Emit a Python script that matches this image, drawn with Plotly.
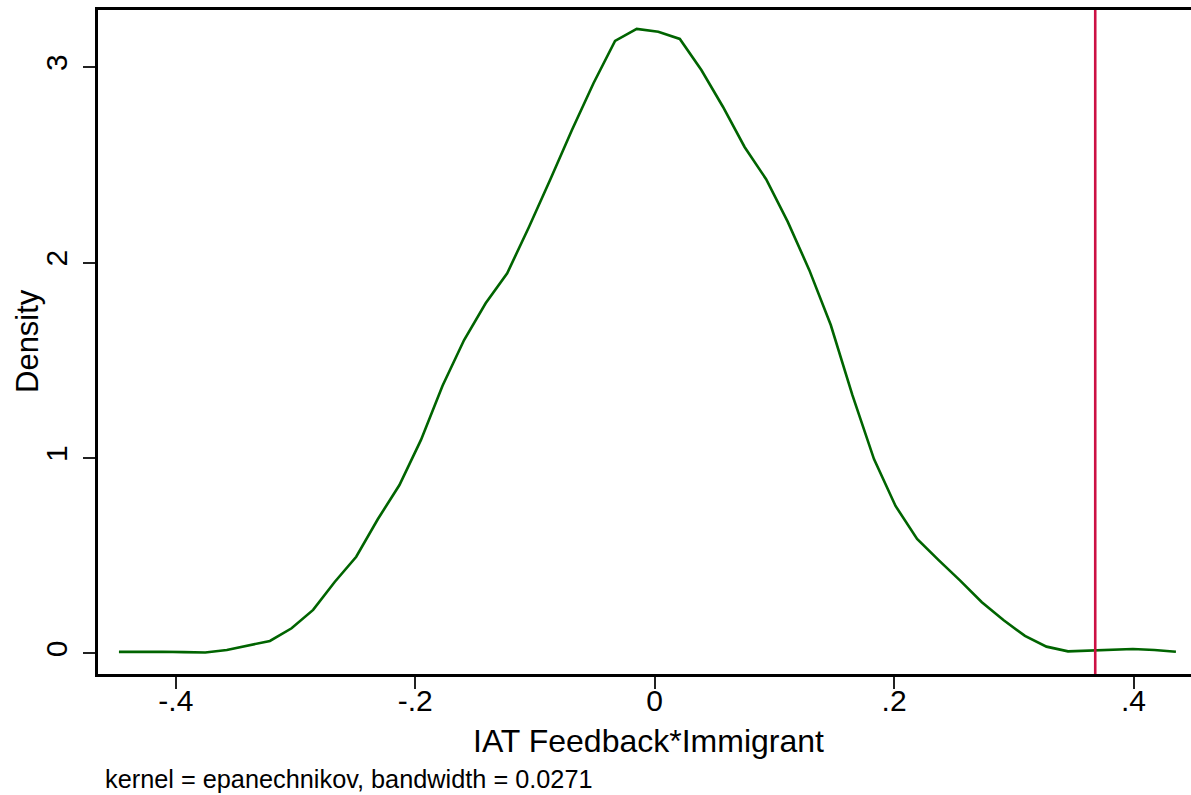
import plotly.graph_objects as go

# Kernel density evaluation points and estimated density
x_points = [-0.4475, -0.4295, -0.4114, -0.3934, -0.3754, -0.3574, -0.3394, -0.3214,
            -0.3033, -0.2853, -0.2673, -0.2493, -0.2313, -0.2132, -0.1952, -0.1772,
            -0.1592, -0.1412, -0.1232, -0.1051, -0.0871, -0.0691, -0.0511, -0.0331,
            -0.0150, 0.0030, 0.0210, 0.0390, 0.0570, 0.0751, 0.0931, 0.1111,
            0.1291, 0.1471, 0.1651, 0.1832, 0.2012, 0.2192, 0.2372, 0.2552,
            0.2733, 0.2913, 0.3093, 0.3273, 0.3453, 0.3634, 0.3814, 0.3994,
            0.4174, 0.4354]
density = [0.008, 0.010, 0.009, 0.007, 0.005, 0.018, 0.040, 0.064,
           0.129, 0.223, 0.366, 0.495, 0.687, 0.862, 1.093, 1.370,
           1.604, 1.792, 1.946, 2.181, 2.427, 2.679, 2.918, 3.135,
           3.196, 3.182, 3.145, 2.986, 2.798, 2.592, 2.427, 2.210,
           1.963, 1.681, 1.323, 0.995, 0.755, 0.586, 0.478, 0.373,
           0.262, 0.171, 0.090, 0.035, 0.011, 0.016, 0.021, 0.023,
           0.018, 0.009]
xline_value = 0.368

x_tickvals = [-0.4, -0.2, 0, 0.2, 0.4]
x_ticktext = ["-.4", "-.2", "0", ".2", ".4"]
y_tickvals = [0, 1, 2, 3]
y_ticktext = ["0", "1", "2", "3"]

x_title = "IAT Feedback*Immigrant"
y_title = "Density"
note_text = "kernel = epanechnikov, bandwidth = 0.0271"

W, H = 1191, 795
ML, MR, MT, MB = 98, 0, 10, 121
plot_h = H - MT - MB

FONT = "Liberation Sans, Arial, sans-serif"

fig = go.Figure()
fig.add_trace(go.Scatter(
    x=x_points, y=density, mode="lines",
    line=dict(color="#006400", width=2.6),
    showlegend=False, hoverinfo="skip"))

fig.add_shape(type="line", x0=xline_value, x1=xline_value, xref="x",
              y0=0, y1=1, yref="paper",
              line=dict(color="#cc1144", width=2.6))

def paper_y(py):
    return (H - MB - py) / plot_h

fig.add_annotation(text=x_title, xref="paper", yref="paper",
                   x=(648 - ML) / (W - ML - MR), y=paper_y(741),
                   xanchor="center", yanchor="middle", showarrow=False,
                   font=dict(family=FONT, size=32, color="black"))
fig.add_annotation(text=y_title, xref="paper", yref="paper",
                   x=(27 - ML) / (W - ML - MR), y=paper_y(341),
                   xanchor="center", yanchor="middle", showarrow=False,
                   textangle=-90,
                   font=dict(family=FONT, size=31, color="black"))
fig.add_annotation(text=note_text, xref="paper", yref="paper",
                   x=(103 - ML) / (W - ML - MR), y=paper_y(779),
                   xanchor="left", yanchor="middle", showarrow=False,
                   font=dict(family=FONT, size=25.3, color="black"))

fig.update_layout(
    width=W, height=H,
    margin=dict(l=ML, r=MR, t=MT, b=MB, autoexpand=False),
    paper_bgcolor="white", plot_bgcolor="white",
    font=dict(family=FONT, color="black"),
    xaxis=dict(range=[-0.465, 0.448], tickvals=x_tickvals, ticktext=x_ticktext,
               ticks="outside", ticklen=12, tickwidth=1.5, tickcolor="#222",
               showline=True, linecolor="black", linewidth=2.5, mirror=True,
               showgrid=False, zeroline=False, ticklabelstandoff=-14,
               tickfont=dict(family=FONT, size=30, color="black")),
    yaxis=dict(range=[-0.105, 3.293], tickvals=y_tickvals, ticktext=y_ticktext,
               ticks="outside", ticklen=12, tickwidth=1.5, tickcolor="#222",
               showline=True, linecolor="black", linewidth=2.5,
               showgrid=False, zeroline=False, tickangle=-90, ticklabelstandoff=4,
               tickfont=dict(family=FONT, size=30, color="black")),
)

fig.write_html("out.html")
